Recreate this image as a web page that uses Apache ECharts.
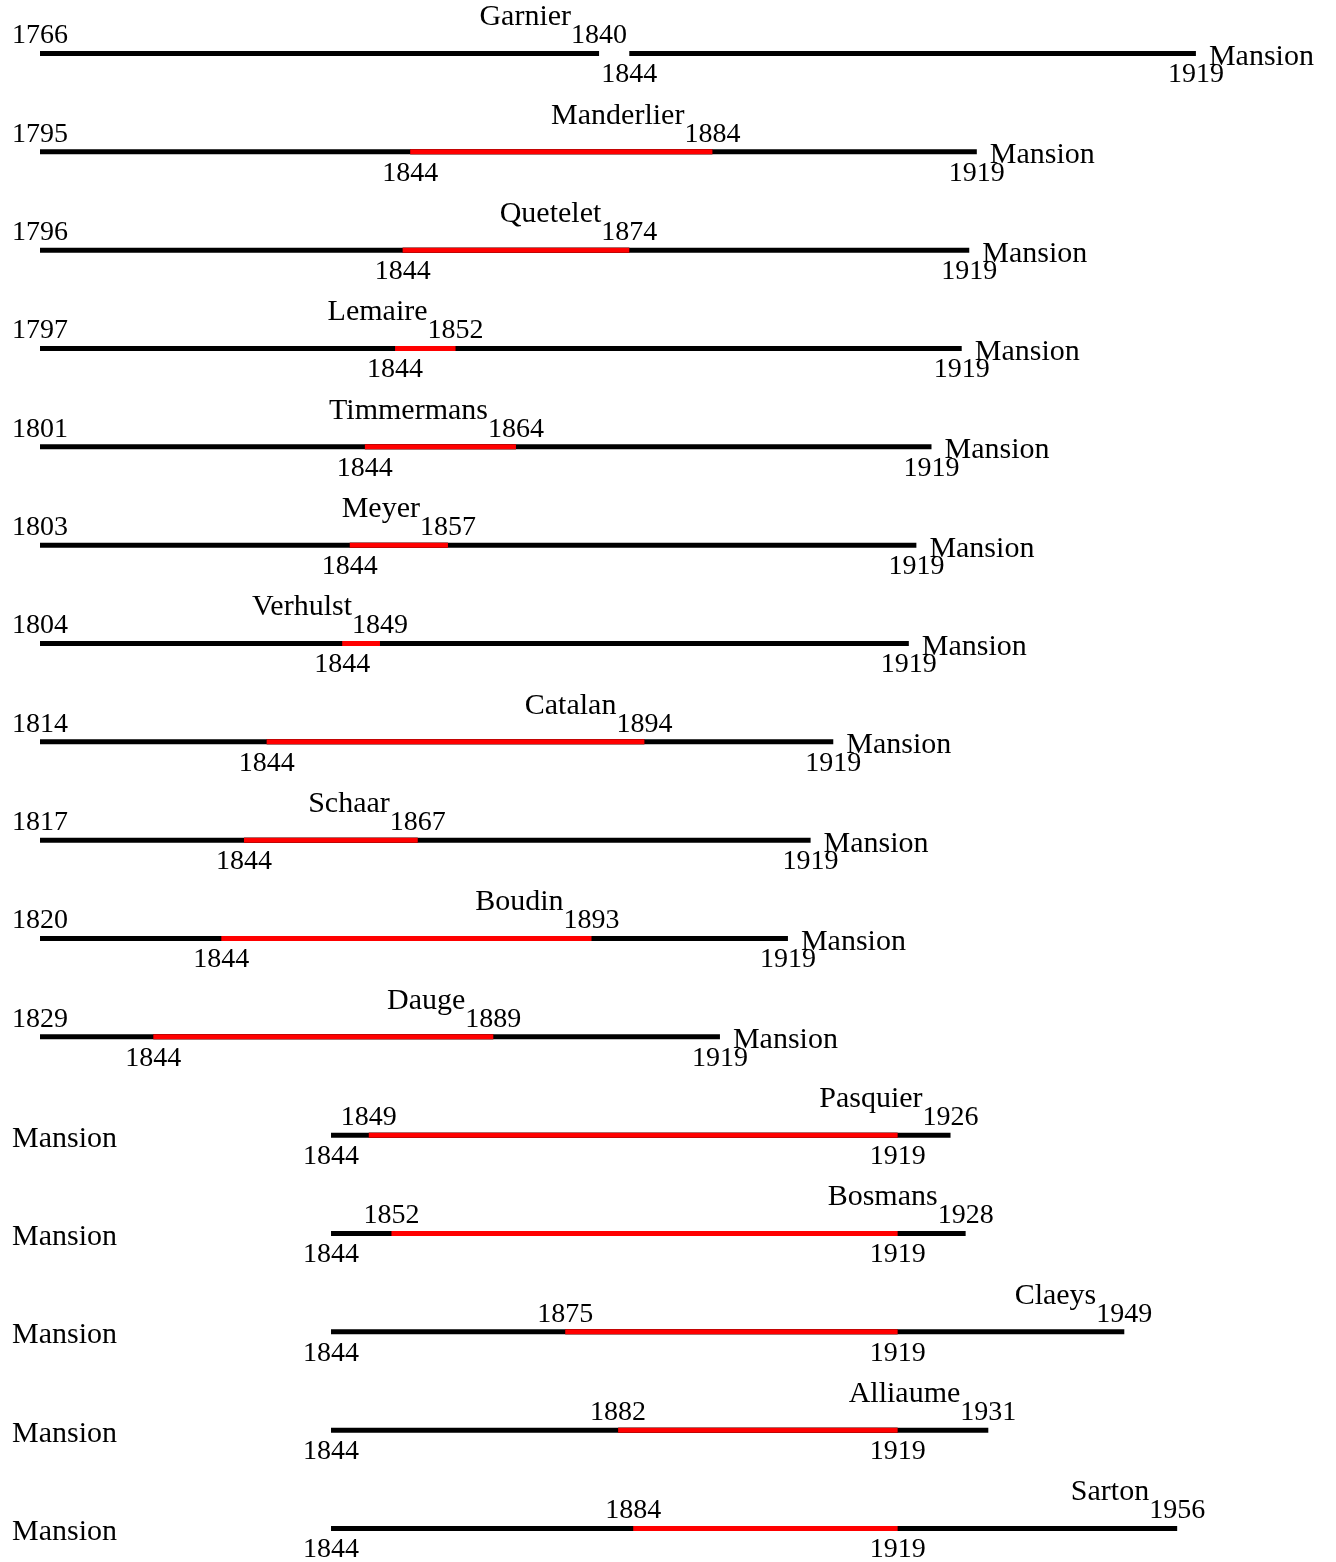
<!DOCTYPE html>
<html><head><meta charset="utf-8">
<script src="https://cdn.jsdelivr.net/npm/echarts@6/dist/echarts.min.js"></script>
<style>html,body{margin:0;padding:0;background:#fff}#main{width:1336px;height:1562px}</style>
</head><body><div id="main"></div>
<script>
// ---- data ----
const mansionName = 'Mansion';
const mansionBirth = 1844;
const mansionDeath = 1919;
const names  = ['Garnier','Manderlier','Quetelet','Lemaire','Timmermans','Meyer','Verhulst','Catalan','Schaar','Boudin','Dauge','Pasquier','Bosmans','Claeys','Alliaume','Sarton'];
const births = [1766,1795,1796,1797,1801,1803,1804,1814,1817,1820,1829,1849,1852,1875,1882,1884];
const deaths = [1840,1884,1874,1852,1864,1857,1849,1894,1867,1893,1889,1926,1928,1949,1931,1956];

// ---- layout / style constants ----
const PX_PER_YEAR = 7.555;
const SPAN = 160;
const LATE_START = 38.52;   // relative x (years) of Mansion's birth on rows where Mansion is the elder
const FONT_FAMILY = 'Liberation Serif';
const YEAR_SIZE = 28, NAME_SIZE = 30;
const LW = 5;

const seriesData = names.map((n, i) => {
  const mansionFirst = mansionBirth < births[i];
  const offset = mansionFirst ? mansionBirth - LATE_START : births[i];
  return [i, births[i], deaths[i], offset];
});

function txt(text, x, y, align, size) {
  return { type: 'text', silent: true, style: {
    text: text, x: x, y: y, fill: '#000', align: align, verticalAlign: 'middle',
    fontFamily: FONT_FAMILY, fontSize: size, fontWeight: 'normal' } };
}

function renderItem(params, api) {
  const row = api.value(0), b = api.value(1), d = api.value(2), off = api.value(3);
  const P = yr => api.coord([yr - off, row]);
  const L = P(b)[1];
  const children = [];
  const seg = (a, z, color) => {
    const p1 = P(a), p2 = P(z);
    children.push({ type: 'line', silent: true,
      shape: { x1: p1[0], y1: p1[1], x2: p2[0], y2: p2[1] },
      style: { stroke: color, lineWidth: LW, lineCap: 'butt' } });
  };
  seg(b, d, '#000');
  seg(mansionBirth, mansionDeath, '#000');
  const os = Math.max(b, mansionBirth), oe = Math.min(d, mansionDeath);
  if (oe > os) seg(os, oe, '#ff0000');

  // other person's labels (above)
  children.push(txt(String(b), P(b)[0], L - 17.5, 'center', YEAR_SIZE));
  children.push(txt(String(d), P(d)[0], L - 17.5, 'center', YEAR_SIZE));
  children.push(txt(names[row], P(d)[0] - YEAR_SIZE, L - 36, 'right', NAME_SIZE));
  // Mansion's labels (below)
  children.push(txt(String(mansionBirth), P(mansionBirth)[0], L + 21.5, 'center', YEAR_SIZE));
  children.push(txt(String(mansionDeath), P(mansionDeath)[0], L + 21.5, 'center', YEAR_SIZE));
  const mansionFirst = mansionBirth < b;
  if (mansionFirst) {
    children.push(txt(mansionName, api.coord([0, row])[0] - YEAR_SIZE, L + 3.5, 'left', NAME_SIZE));
  } else {
    children.push(txt(mansionName, P(mansionDeath)[0] + 13, L + 3.5, 'left', NAME_SIZE));
  }
  return { type: 'group', children: children };
}

const chart = echarts.init(document.getElementById('main'), null, { renderer: 'canvas' });
chart.setOption({
  backgroundColor: '#fff',
  animation: false,
  grid: { left: 40, top: 53.5, width: SPAN * PX_PER_YEAR, height: 1475 },
  xAxis: { type: 'value', min: 0, max: SPAN, show: false },
  yAxis: { type: 'category', data: names, inverse: true, boundaryGap: false, show: false },
  series: [{
    type: 'custom', coordinateSystem: 'cartesian2d', clip: false, silent: true,
    renderItem: renderItem, data: seriesData
  }]
});
</script></body></html>
